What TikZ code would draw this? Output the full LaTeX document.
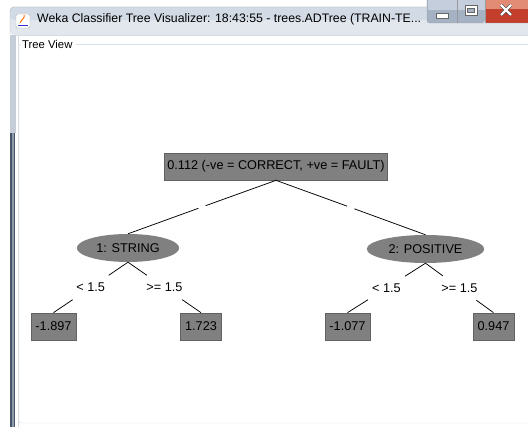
\documentclass[tikz,border=0pt]{standalone}
\usepackage{fontspec}
\setmainfont{Liberation Sans}
\usetikzlibrary{shapes.geometric}

\definecolor{nodegray}{RGB}{128,128,128}
\definecolor{nodeedge}{RGB}{98,98,98}
\definecolor{bartop}{RGB}{210,219,229}
\definecolor{barbot}{RGB}{226,231,238}
\definecolor{panelline}{RGB}{214,222,230}
\definecolor{frameleft}{RGB}{196,205,216}
\definecolor{framedark}{RGB}{70,86,108}
\definecolor{closetop}{RGB}{226,140,118}
\definecolor{closebot}{RGB}{196,62,44}
\definecolor{btntop}{RGB}{196,206,220}
\definecolor{btnbot}{RGB}{164,178,196}

\newcommand{\treefont}{\fontsize{12.7}{14}\selectfont}

\begin{document}
\begin{tikzpicture}[x=1pt,y=-1pt,
  leafbox/.style={rectangle,fill=nodegray,draw=nodeedge,line width=0.7pt,
    inner xsep=4.5pt,inner ysep=0pt,minimum height=27pt,font=\treefont},
  testnode/.style={ellipse,fill=nodegray,inner xsep=4.6pt,inner ysep=0pt,
    minimum height=28pt,font=\treefont},
  splitlbl/.style={inner xsep=4pt,inner ysep=0pt,minimum height=24pt,font=\treefont},
  gapnode/.style={inner sep=0pt,minimum width=7pt,minimum height=5pt},
  branch/.style={line width=0.75pt}]
  \useasboundingbox (0,0) rectangle (528,427);
  \fill[white] (0,0) rectangle (528,427);

  % window frame and title bar
  \fill[barbot,rounded corners=4pt] (10,7) rectangle (540,35);
  \fill[bartop,rounded corners=4pt] (10,7) rectangle (540,20);
  \draw[gray!60,rounded corners=4pt] (10,35) -- (10,7) -- (540,7);
  \fill[frameleft] (10,35) rectangle (16,133);
  \fill[framedark] (10,133) rectangle (15,427);
  \fill[framedark!60] (12,133) rectangle (13.5,427);
  \fill[white] (16,35) rectangle (528,427);
  \draw[panelline] (16,35.5) -- (528,35.5);
  \draw[panelline,line width=0.8pt] (18,36) -- (18,427);

  % title icon and caption
  \node[draw=gray!60,fill=white,rounded corners=1.5pt,minimum size=14pt] (icon) at (23,21) {};
  \draw[orange!85!red,line width=1pt] (20,23) .. controls (22,18) and (25,19) .. (24,15);
  \draw[blue!60!gray,line width=0.8pt] (18,25) -- (28,25);
  \node[anchor=west,font=\fontsize{12.3}{14}\selectfont,inner sep=0pt] (title) at (37,19)
    {Weka Classifier Tree Visualizer: 18:43:55 - trees.ADTree (TRAIN-TE...};

  % caption buttons
  \fill[btnbot,rounded corners=3pt] (427,-4) rectangle (485,23);
  \fill[btntop] (428,-4) rectangle (485,10);
  \fill[closebot] (485,-4) rectangle (528,23);
  \fill[closetop] (485,-4) rectangle (528,9);
  \draw[gray!80,rounded corners=3pt] (427,-4) -- (427,23) -- (528,23);
  \draw[gray!80] (457,-4) -- (457,23) (485,-4) -- (485,23);
  \draw[gray!80!black,fill=white] (436,13) rectangle (448,18);
  \draw[gray!80!black,fill=white] (465,5) rectangle (477,15);
  \draw[gray!80!black,fill=btnbot] (467.5,8) rectangle (474.5,12.5);
  \draw[gray!50!black,line width=3.4pt] (501,5) -- (511,15) (511,5) -- (501,15);
  \draw[white,line width=2.2pt] (501,5) -- (511,15) (511,5) -- (501,15);

  % group box
  \draw[panelline,rounded corners=2pt] (60,44) -- (19,44) -- (19,423) -- (540,423);
  \draw[panelline] (76,44) -- (528,44);
  \node[anchor=west,fill=white,inner sep=1pt,font=\fontsize{11.3}{13}\selectfont] (tv) at (21,44) {Tree View};

  % tree
  \node[leafbox,inner xsep=3pt] (root) at (276,166.5) {0.112 (-ve = CORRECT, +ve = FAULT)};
  \node[testnode] (t1) at (128,248) {1: STRING};
  \node[testnode] (t2) at (425.5,249) {2: POSITIVE};
  \node[leafbox] (p1) at (53.5,326.5) {-1.897};
  \node[leafbox] (p2) at (201,326.5) {1.723};
  \node[leafbox] (p3) at (347.5,326.5) {-1.077};
  \node[leafbox] (p4) at (493.5,326.5) {0.947};

  \node[gapnode] (g1) at (202,207) {};
  \node[gapnode] (g2) at (350.75,207.5) {};
  \node[splitlbl] (c11) at (90.75,287.5) {< 1.5};
  \node[splitlbl] (c12) at (164.5,287.5) {>= 1.5};
  \node[splitlbl] (c21) at (386.5,288) {< 1.5};
  \node[splitlbl] (c22) at (459.5,288) {>= 1.5};

  \draw[branch] (root.south) -- (g1) -- (t1.north);
  \draw[branch] (root.south) -- (g2) -- (t2.north);
  \draw[branch] (t1.south) -- (c11) -- (p1.north);
  \draw[branch] (t1.south) -- (c12) -- (p2.north);
  \draw[branch] (t2.south) -- (c21) -- (p3.north);
  \draw[branch] (t2.south) -- (c22) -- (p4.north);
\end{tikzpicture}
\end{document}
